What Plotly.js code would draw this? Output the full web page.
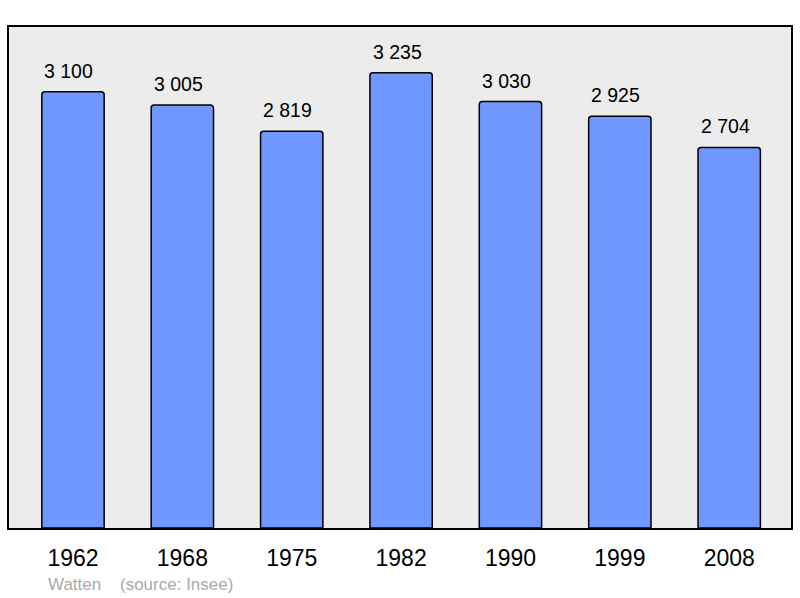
<!DOCTYPE html>
<html>
<head>
<meta charset="utf-8">
<script src="https://cdn.plot.ly/plotly-3.0.1.min.js"></script>
<style>
  html, body { margin: 0; padding: 0; background: #fff; }
  #chart { width: 800px; height: 598px; }
</style>
</head>
<body>
<div id="chart"></div>
<script>
'use strict';

var years = ['1962', '1968', '1975', '1982', '1990', '1999', '2008'];
var population = [3100, 3005, 2819, 3235, 3030, 2925, 2704];
var valueLabels = ['3 100', '3 005', '2 819', '3 235', '3 030', '2 925', '2 704'];

var labelFont = 'Liberation Sans, Arial, sans-serif';

var trace = {
    type: 'bar',
    x: years,
    y: population,
    width: 0.57,
    marker: {
        color: '#7097ff',
        line: { color: '#000', width: 1.5 },
        cornerradius: 3
    },
    hoverinfo: 'none'
};

// value labels above each bar (x given as category index)
var annotations = years.map(function(yr, i) {
    return {
        x: i,
        y: population[i],
        text: valueLabels[i],
        showarrow: false,
        yanchor: 'bottom',
        yshift: 8,
        xshift: -4,
        font: { family: labelFont, size: 19.5, color: '#000' }
    };
});

// footer
annotations.push({
    xref: 'paper', yref: 'paper',
    x: 0.047, y: -0.112,
    xanchor: 'left', yanchor: 'middle',
    text: 'Watten',
    showarrow: false,
    font: { family: labelFont, size: 17, color: '#aaaaaa' }
});
annotations.push({
    xref: 'paper', yref: 'paper',
    x: 0.14, y: -0.112,
    xanchor: 'left', yanchor: 'middle',
    text: '(source: Insee)',
    showarrow: false,
    font: { family: labelFont, size: 17, color: '#aaaaaa' }
});

var layout = {
    width: 800,
    height: 598,
    margin: { l: 9, r: 9, t: 27, b: 70 },
    paper_bgcolor: '#ffffff',
    plot_bgcolor: '#ececec',
    showlegend: false,
    xaxis: {
        type: 'category',
        range: [-0.585, 6.565],
        showline: true,
        mirror: true,
        linecolor: '#000',
        linewidth: 2,
        ticks: '',
        ticklabelstandoff: 8,
        tickfont: { family: labelFont, size: 23, color: '#000' },
        fixedrange: true
    },
    yaxis: {
        range: [0, 3560],
        showline: true,
        mirror: true,
        linecolor: '#000',
        linewidth: 2,
        showgrid: false,
        zeroline: false,
        showticklabels: false,
        ticks: '',
        fixedrange: true
    },
    annotations: annotations
};

Plotly.newPlot('chart', [trace], layout, { displayModeBar: false, staticPlot: true });
</script>
</body>
</html>
